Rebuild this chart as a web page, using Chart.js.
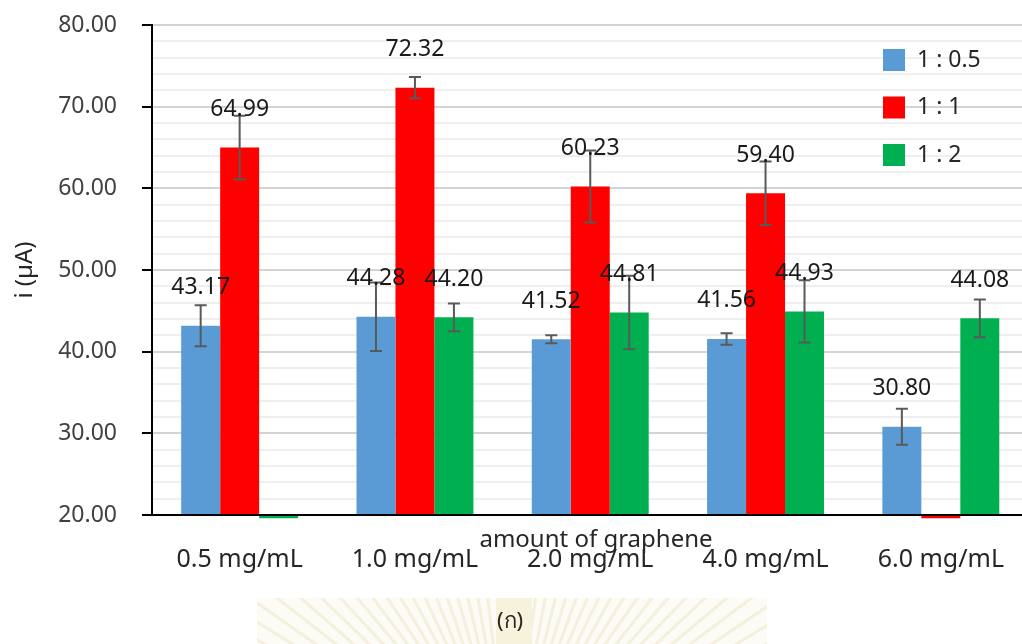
<!DOCTYPE html>
<html>
<head>
<meta charset="utf-8">
<script src="https://cdn.jsdelivr.net/npm/chart.js@4.4.0/dist/chart.umd.min.js"></script>
<style>
  html, body { margin: 0; padding: 0; background: #fff; overflow: hidden; }
  #wrap { width: 1022px; height: 644px; overflow: hidden; }
</style>
</head>
<body>
<div id="wrap"><canvas id="chart" width="1034" height="644"></canvas></div>
<script>
// categories and series
const categories = ['0.5 mg/mL', '1.0 mg/mL', '2.0 mg/mL', '4.0 mg/mL', '6.0 mg/mL'];
const seriesNames = ['1 : 0.5', '1 : 1', '1 : 2'];
// 19.6 = missing point that Excel shows as a small stub under the axis
const ratio05 = [43.17, 44.28, 41.52, 41.56, 30.80];
const ratio1 = [64.99, 72.32, 60.23, 59.40, 19.6];
const ratio2 = [19.6, 44.20, 44.81, 44.93, 44.08];
// error bar half-heights
const err05 = [2.5, 4.2, 0.5, 0.7, 2.2];
const err1 = [3.9, 1.3, 4.4, 3.9, null];
const err2 = [null, 1.7, 4.5, 3.8, 2.3];
const yMin = 20, yMax = 80, yMinorStep = 2, yMajorStep = 10;
const yTitle = 'i (\u00B5A)';
const xTitle = 'amount of graphene';
const caption = '(\u0E01)';

const colors = ['#5B9BD5', '#FF0000', '#00B050'];
const errs = [err05, err1, err2];
const FONT = '"Noto Sans", "DejaVu Sans", sans-serif';

const extras = {
  id: 'extras',
  beforeDraw(chart) {
    // faint watermark behind the caption
    const ctx = chart.ctx;
    ctx.save();
    ctx.beginPath();
    ctx.rect(257, 598, 510, 46);
    ctx.clip();
    ctx.fillStyle = 'rgba(250,247,235,0.5)';
    ctx.fillRect(257, 598, 510, 46);
    ctx.strokeStyle = 'rgba(225,212,160,0.28)';
    ctx.lineWidth = 3;
    for (let a = -70; a <= 70; a += 3) {
      if (Math.abs(a) < 6) continue;
      const r = a * Math.PI / 180;
      ctx.beginPath();
      ctx.moveTo(510, 780);
      ctx.lineTo(510 + Math.sin(r) * 400, 780 - Math.cos(r) * 400);
      ctx.stroke();
    }
    ctx.fillStyle = 'rgba(247,242,218,0.9)';
    ctx.fillRect(496, 598, 36, 46);
    ctx.restore();
  },
  afterDatasetsDraw(chart) {
    const ctx = chart.ctx;
    const y = chart.scales.y;
    ctx.save();
    // error bars
    chart.data.datasets.forEach((ds, i) => {
      const meta = chart.getDatasetMeta(i);
      meta.data.forEach((bar, j) => {
        const e = errs[i][j];
        const v = ds.data[j];
        if (e == null || v < yMin) return;
        const top = y.getPixelForValue(v + e);
        const bot = y.getPixelForValue(v - e);
        ctx.strokeStyle = '#595959';
        ctx.lineWidth = 2;
        ctx.beginPath();
        ctx.moveTo(bar.x, top); ctx.lineTo(bar.x, bot);
        ctx.moveTo(bar.x - 6, top); ctx.lineTo(bar.x + 6, top);
        ctx.moveTo(bar.x - 6, bot); ctx.lineTo(bar.x + 6, bot);
        ctx.stroke();
      });
    });
    // value labels
    ctx.font = '23px ' + FONT;
    ctx.fillStyle = '#1a1a1a';
    ctx.textAlign = 'center';
    ctx.textBaseline = 'middle';
    chart.data.datasets.forEach((ds, i) => {
      const meta = chart.getDatasetMeta(i);
      meta.data.forEach((bar, j) => {
        const v = ds.data[j];
        if (v < yMin) return;
        ctx.fillText(v.toFixed(2), bar.x, bar.y - 38);
      });
    });
    // legend
    ctx.textAlign = 'left';
    chart.data.datasets.forEach((ds, i) => {
      const cy = 60 + i * 47.5;
      ctx.fillStyle = ds.backgroundColor;
      ctx.fillRect(883, cy - 11, 22, 22);
      ctx.fillStyle = '#262626';
      ctx.fillText(ds.label, 917, cy);
    });
    // x title (sits over the tick labels as in the source)
    ctx.textAlign = 'center';
    ctx.fillStyle = '#262626';
    ctx.font = '24px ' + FONT;
    ctx.fillText(xTitle, 596, 540);
    ctx.font = '22px ' + FONT;
    ctx.fillText(caption, 510, 622);
    ctx.restore();
  }
};

new Chart(document.getElementById('chart'), {
  type: 'bar',
  data: {
    labels: categories,
    datasets: [ratio05, ratio1, ratio2].map((d, i) => ({
      label: seriesNames[i],
      data: d,
      base: yMin,
      backgroundColor: colors[i],
      borderWidth: 0,
      barPercentage: 1,
      categoryPercentage: 0.667,
      clip: false
    }))
  },
  options: {
    responsive: false,
    animation: false,
    layout: { padding: { top: 25, right: 0, left: 0, bottom: 0 } },
    plugins: { legend: { display: false }, tooltip: { enabled: false } },
    scales: {
      x: {
        grid: { display: false, drawTicks: false },
        border: { display: true, color: '#000', width: 2, z: 1 },
        ticks: { color: '#262626', font: { family: FONT, size: 25 }, padding: 30, maxRotation: 0 },
        afterFit(s) { s.height = 129; }
      },
      y: {
        min: yMin,
        max: yMax,
        ticks: {
          stepSize: yMinorStep,
          autoSkip: false,
          color: '#404040',
          font: { family: FONT, size: 23 },
          padding: 25,
          callback: v => (v % yMajorStep === 0 ? v.toFixed(2) : '')
        },
        grid: {
          color: c => (c.tick && c.tick.value % yMajorStep === 0 ? '#d4d4d4' : '#efefef'),
          lineWidth: 2,
          tickLength: 10,
          tickColor: c => (c.tick && c.tick.value % yMajorStep === 0 ? '#000' : 'rgba(0,0,0,0)'),
          tickWidth: 2
        },
        border: { display: true, color: '#000', width: 2 },
        title: {
          display: true,
          text: yTitle,
          color: '#262626',
          font: { family: FONT, size: 24 },
          padding: { top: 11, bottom: 0 }
        },
        afterFit(s) { s.width = 152; s.paddingTop = 12; s.paddingBottom = 12; }
      }
    }
  },
  plugins: [extras]
});
</script>
</body>
</html>
